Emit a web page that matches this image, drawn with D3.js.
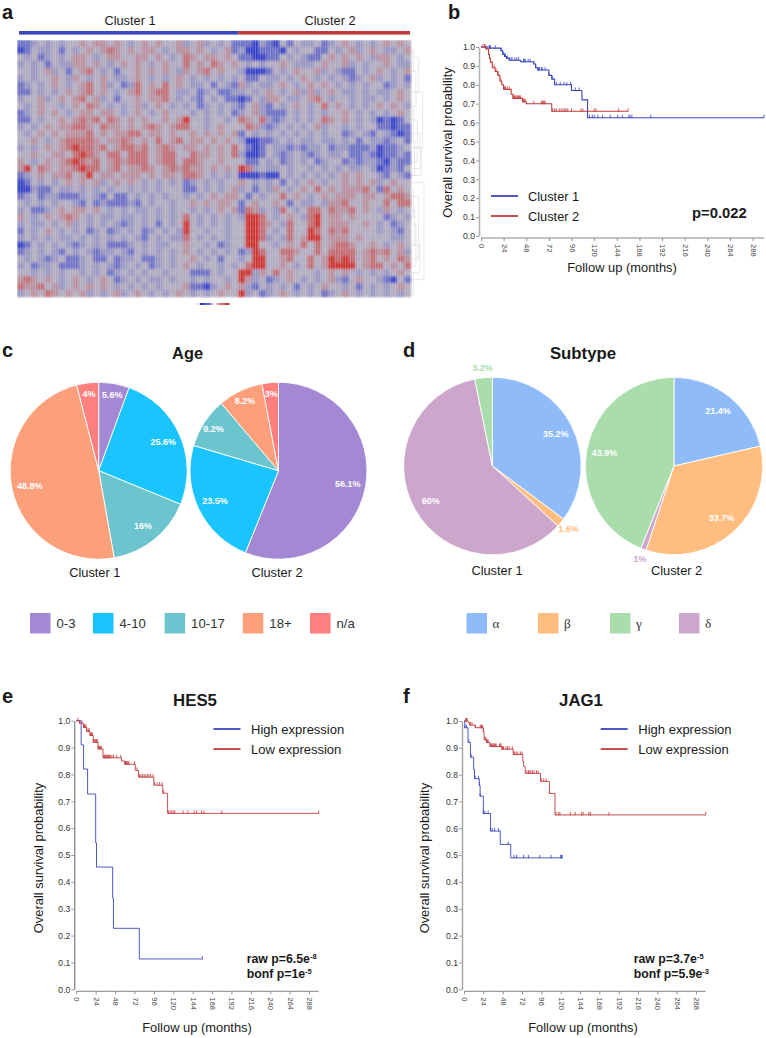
<!DOCTYPE html>
<html>
<head>
<meta charset="utf-8">
<style>
  html, body { margin: 0; padding: 0; background: #fff; }
  svg { display: block; }
  text { font-family: "Liberation Sans", Arial, sans-serif; fill: #1a1a1a; }
</style>
<script src="https://d3js.org/d3.v7.min.js"></script>
</head>
<body>
<svg id="fig" width="766" height="1038"></svg>
<script>
// a: expression, one letter per block
// a,b,c = blue (strong to light), . = neutral, r,s,t = red (light to strong)
const heatLevels = { a: -3, b: -1.7, c: -0.6, '.': 0, r: 0.7, s: 1.6, t: 3 };
const heatCluster1 = [
  "bbc.c.c. .r.rr.r. c.r.r..r c.rc.c.b",
  "ab.cc.b. c.r.rsr. r.rr.c.r r.r.c.rb",
  ".c.bc.c. rr.c.rr. .rr.r.c. sr.rr.r.",
  "c.c.b.cc rr.r.c.r .r.c.r.. s.r.sr.r",
  "..c.rc.b .rs.c.b. .r.r.r.c r.rs.r..",
  "c.c..r.c r.c.r.cc .r.c.c.r .c.c.c.c",
  "bc.c.r.c .rs.rc.b cs.r.s.r .cc.b.cb",
  "bb.c.c.r .rs.r.c. rs.rss.c c.bc.bbc",
  "c..rc.r. rs.rc.b. .r.rrs.c .cb.c.bb",
  ".c.r..c. r.sr.c.c .rc.r.c. c.bc.c.c",
  "bc.r.r.c .rr.rr.c .r.c.r.. .c.c.c.b",
  "bb.c..r. rsrs.sr. r.r..r.r t..c..c.",
  "c.c.r.rr ssr.srr. r.rsr.rs s..c.r..",
  ".c.r.r.r rrs.r.rr ss.rr.r. .r.r.r.r",
  "..r.c.rs sssr.rrs r.r.s.rs .rr.r.r.",
  "c.c.r.rs tssrs.rs srs.rsr. rr.r.r.s",
  "..r..rr. stsr.ss. sss.rss. .srr.r.s",
  "r.c.r.rs tsrs.rsr sss.rss. ssr..r..",
  "rt.sr.rr stss.rs. rrsr.rsr srr.r.r.",
  "bc.r.rrs .rt.rr.r rr.r.rr. ssr.c.c.",
  "ab.c.c.r .r.rc.r. r.c.c.c. bc.c.c..",
  "aacbb.cc .c.c.c.. c.c.c... bb.c.c.r",
  "bc.bccbb bc.cb.bb .c.c.c.. c.c.r.rr",
  ".c.c.c.. cb.bcbbb cb.c..c. .r.r.rr.",
  "c.bbc.r. rr.r.c.c .cc.c.c. .c.c.r.r",
  "r.c.r.rs r.c.cc.c c.c.c.c. s.c.c.c.",
  "c.cc.c.r c.c.c.cb c.c.b.c. t.c.c.c.",
  "b.c.r.c. c.bc.bc. c.bc.c.c t..c..c.",
  "c.c.c.cc .c.c.c.c .cb.c.cc s.c.c.c.",
  "ab.c.c.c bc.c.bbb c.c.cc.. r..c.bc.",
  "bc.c.cb. c.cbcc.c b.c.c.c. r.c.c.c.",
  ".c.cbc.b bc.bb.bc c.bbc.c. .r.c.b..",
  "c.bcc.bb bc.c.cbc .c.bc.c. r.c..c.c",
  "..c.c.c. .c.c.bc. c.c..c.. .bbb.c..",
  "rsr.r.c. r.c.r.bc .c.cc.c. .c.c..c.",
  "srrs.rc. r.r.r.c. c.c.c... rbbac.r.",
  "c.r.sr.r .rc.c.rc .r.c.c.r .c.c.r.."
];
const heatCluster2 = [
  "bbacb a.b.c c.bc. r.c.c .r.r.",
  "caabb ba.c. .bb.c .rc.r .cc.r",
  "bbaab b.c.c bb.r. r.r.c rr.c.",
  ".c.c. .r.cc c.r.. rc.c. .r.cc",
  "caaab .c.r. .rc.c bb.c. r.c.r",
  ".bb.c c.c.r .c.c. cbc.r c.c.b",
  "rc.cc .r.c. r.r.c .c.c. .bc.c",
  "c.c.r .c.rc rc.r. cc.c. cc.r.",
  "ab.cr r.cc. rs.c. .c.cc .c.r.",
  "b.rcb .c.r. c.s.r .c.c. r.r.c",
  "c.rcb bb.c. c.c.. r.c.c .c.r.",
  "sr.sc bc.c. c.sr. r.c.c abab.",
  ".srcb c.c.c .rc.. c.c.. bbabb",
  "b.c.c .c.c. c.c.. bc.cb .cbab",
  "caabb c.c.c c.cc. c.b.c cbc.b",
  ".bab. ccbcb cc.bc cbbbc abbc.",
  "caab. cbc.c bc.cc .bbcb abbcb",
  ".bb.c .bc.c .bc.. bcbcc bacbb",
  "tsc.c c.c.. c.c.c .cc.c abcb.",
  "aaaba a.c.c .c.c. r.r.. cb.cb",
  "r.c.c .b.c. r.c.. r.r.r c.r..",
  "c.b.c r.c.r .s.r. rrrs. bs.r.",
  ".b.c. .s.r. c.r.r rr.rr .rssr",
  "b.r.. r.b.c c.crr s..r. .s.ss",
  "bsrc. cs.c. ss.sr rs.r. cr.c.",
  "ctts. c.r.c st.rr .r... .bc.c",
  ".ttsr .cs.. st.rr r..r. c.bc.",
  ".tts. c.s.. ts.sr s.... c.cb.",
  ".ttsc .cs.r tt.rr r.r.. ..cc.",
  ".tt.. c.r.s .s.rs sr..r .c.r.",
  "bcts. .ssr. .s.ss ss.rs rs.rc",
  "c.tt. .rs.. s.rts ts.rs .r.sr",
  ".stt. .r.c. s.rtt tt.rs s.r.s",
  "ttcr. s.r.. .c.r. r.c.c .c.r.",
  "trc.b c.r.c .c.rc b.r.. cba.b",
  "rcb.c .c.b. c.r.. c.b.c .c.r.",
  "tc.bc .r.c. c.bc. r.c.c .c.c."
];
// dendrogram beside the heatmap: [first row, last row, depth]
const dendroMerges = [
  [1, 4, 1], [4, 9, 3], [2, 7, 5], [9, 14, 1], [14, 19, 2], [11, 17, 4], [13, 18, 6], [15, 19, 7],
  [21, 25, 1], [24, 29, 2], [26, 32, 3], [22, 31, 5], [29, 33, 6], [33, 36, 1], [7, 15, 8], [20, 34, 9]
];
const colorKeySteps = [-3, -2.5, -2, -1.5, -1, -0.5, 0, 0.5, 1, 1.5, 2, 2.5, 3];

// survival panels share these ticks
const monthTicks = [0, 24, 48, 72, 96, 120, 144, 168, 192, 216, 240, 264, 288];
const survTicks = [0, 0.1, 0.2, 0.3, 0.4, 0.5, 0.6, 0.7, 0.8, 0.9, 1];

// b
const cluster1Months = [0, 9, 21, 23, 25, 27, 30, 42, 56, 58, 60, 72, 75, 78, 96, 107, 113, 300];
const cluster1Surv = [1, 0.994, 0.98, 0.96, 0.95, 0.94, 0.93, 0.922, 0.91, 0.89, 0.878, 0.85, 0.83, 0.8, 0.77, 0.72, 0.626, 0.626];
const cluster1Censored = [4, 9, 10, 15, 22, 24, 25, 26, 28, 30, 32, 33, 36, 38, 40, 45, 46, 47, 50, 52, 56, 58, 61, 62, 64, 65, 68, 72, 76, 80, 84, 88, 91, 95, 100, 104, 115, 118, 120, 124, 129, 137, 145, 150, 157, 158, 160, 180, 300];
const cluster2Months = [0, 5, 8, 9, 10, 12, 15, 18, 20, 22, 24, 32, 34, 44, 48, 75, 156];
const cluster2Surv = [1, 0.99, 0.96, 0.94, 0.92, 0.89, 0.87, 0.85, 0.82, 0.8, 0.776, 0.75, 0.728, 0.71, 0.7, 0.66, 0.66];
const cluster2Censored = [2, 4, 6, 9, 14, 16, 18, 21, 24, 25, 26, 28, 30, 34, 35, 36, 37, 38, 39, 40, 41, 42, 45, 46, 47, 56, 64, 65, 66, 67, 68, 76, 78, 80, 83, 85, 87, 89, 90, 92, 96, 106, 108, 120, 122, 146, 156];

// e
const hes5HighMonths = [0, 6, 9, 14, 24, 25, 45, 46, 78, 156];
const hes5HighSurv = [1, 0.91, 0.82, 0.727, 0.545, 0.455, 0.34, 0.227, 0.113, 0.113];
const hes5HighCensored = [156];
const hes5LowMonths = [0, 4, 9, 13, 17, 21, 27, 33, 56, 60, 73, 77, 96, 107, 113, 300];
const hes5LowSurv = [1, 0.99, 0.975, 0.96, 0.945, 0.92, 0.895, 0.862, 0.85, 0.838, 0.815, 0.79, 0.76, 0.73, 0.655, 0.655];
const hes5LowCensored = [2, 4, 7, 9, 10, 11, 12, 13, 15, 16, 17, 18, 19, 20, 21, 22, 23, 24, 25, 26, 27, 28, 29, 30, 31, 34, 35, 36, 37, 38, 39, 40, 41, 42, 44, 46, 50, 55, 60, 61, 62, 63, 64, 65, 72, 75, 78, 80, 82, 84, 86, 88, 90, 92, 95, 97, 100, 103, 106, 108, 114, 116, 118, 120, 122, 132, 138, 146, 149, 155, 158, 180, 300];

// f
const jag1HighMonths = [0, 1, 5, 8, 12, 13, 14, 19, 20, 24, 33, 45, 58, 122];
const jag1HighSurv = [1, 0.975, 0.92, 0.865, 0.82, 0.785, 0.785, 0.76, 0.72, 0.655, 0.59, 0.54, 0.49, 0.49];
const jag1HighCensored = [1, 3, 6, 9, 14, 18, 19, 20, 24, 26, 30, 33, 35, 38, 43, 55, 62, 65, 74, 80, 94, 108, 120, 121, 122];
const jag1LowMonths = [0, 5, 7, 14, 24, 25, 28, 32, 47, 61, 73, 74, 76, 78, 95, 106, 113, 300];
const jag1LowSurv = [1, 0.995, 0.985, 0.975, 0.96, 0.93, 0.92, 0.905, 0.895, 0.875, 0.85, 0.83, 0.805, 0.805, 0.775, 0.73, 0.65, 0.65];
const jag1LowCensored = [2, 3, 4, 8, 10, 14, 20, 21, 22, 23, 24, 26, 27, 28, 29, 30, 33, 34, 35, 36, 37, 38, 39, 40, 44, 45, 46, 47, 48, 49, 52, 54, 56, 60, 62, 63, 65, 67, 70, 72, 78, 80, 81, 83, 85, 87, 90, 92, 96, 99, 102, 106, 114, 117, 119, 132, 138, 146, 148, 155, 157, 180, 300];

// c
const ageGroups = ['0-3', '4-10', '10-17', '18+', 'n/a'];
const ageColors = ['#a488d4', '#1ac4ff', '#6cc5ce', '#fba07a', '#ff7f7f'];
const ageCluster1 = [5.6, 25.6, 16, 48.8, 4];
const ageCluster2 = [56.1, 23.5, 9.2, 8.2, 3];

// d (drawn clockwise alpha, beta, delta, gamma)
const subtypes = ['α', 'β', 'γ', 'δ'];
const subtypeColors = ['#8fbcf8', '#ffbe80', '#a9ddab', '#cda6cc'];
const subtypeCluster1 = [35.2, 1.6, 3.2, 60];
const subtypeCluster2 = [21.4, 33.7, 43.9, 1];
const subtypeSliceOrder = [0, 1, 3, 2];

const blue = '#3a45c0';
const red = '#c23a3c';
const svg = d3.select('#fig');

function addText(x, y, str, size, weight, anchor, color) {
  return svg.append('text')
    .attr('x', x).attr('y', y)
    .attr('font-size', size)
    .attr('font-weight', weight || 'normal')
    .attr('text-anchor', anchor || 'start')
    .style('fill', color || '#1a1a1a')
    .text(str);
}

// panel letters
[['a', 2, 18.5], ['b', 448, 18.5], ['c', 2, 357], ['d', 403, 357], ['e', 2, 703], ['f', 403, 703]]
  .forEach(d => addText(d[1], d[2], d[0], 20, 'bold'));

// ---------- a: heatmap ----------
const heatRows = heatCluster1.map((row, i) => (row + heatCluster2[i]).replace(/ /g, ''));
const heatX = d3.scaleBand().domain(d3.range(57)).range([17, 411]);
const heatY = d3.scaleBand().domain(d3.range(heatRows.length)).range([40, 297]);
const heatColor = d3.scaleLinear().domain([-3, 0, 3]).range(['#2f3ccb', '#b4afc2', '#d22f28']);

addText(130, 25, 'Cluster 1', 12.8, 'normal', 'middle');
addText(330, 25, 'Cluster 2', 12.8, 'normal', 'middle');
svg.append('rect').attr('x', 19).attr('y', 31).attr('width', heatX(32) - 19).attr('height', 3.6).attr('fill', blue);
svg.append('rect').attr('x', heatX(32)).attr('y', 31).attr('width', 410 - heatX(32)).attr('height', 3.6).attr('fill', red);

const defs = svg.append('defs');
defs.append('filter').attr('id', 'soften')
  .attr('x', 0).attr('y', 0).attr('width', 1).attr('height', 1)
  .append('feGaussianBlur').attr('stdDeviation', 1.3).attr('edgeMode', 'duplicate');

svg.append('g').attr('filter', 'url(#soften)').selectAll('g')
  .data(heatRows)
  .join('g')
  .attr('transform', (d, i) => `translate(0,${heatY(i)})`)
  .selectAll('rect')
  .data(d => d3.range(57).map(j => d[j] || '.'))
  .join('rect')
  .attr('x', (d, j) => heatX(j))
  .attr('width', heatX.bandwidth() + 0.2)
  .attr('height', heatY.bandwidth() + 0.2)
  .attr('fill', d => heatColor(heatLevels[d]));

// fine cell grid on top, the original has far more cells than can be read
const grain = defs.append('pattern').attr('id', 'grain')
  .attr('patternUnits', 'userSpaceOnUse').attr('width', 5).attr('height', 4);
grain.append('rect').attr('x', 0).attr('width', 1).attr('height', 4).attr('fill', 'rgba(205,205,215,0.38)');
grain.append('rect').attr('x', 2.5).attr('width', 1).attr('height', 4).attr('fill', 'rgba(205,205,215,0.3)');
grain.append('rect').attr('x', 1).attr('y', 1).attr('width', 1).attr('height', 1).attr('fill', 'rgba(60,70,190,0.2)');
grain.append('rect').attr('x', 3.5).attr('y', 3).attr('width', 1).attr('height', 1).attr('fill', 'rgba(200,60,60,0.18)');
svg.append('rect').attr('x', 17).attr('y', 40).attr('width', 394).attr('height', 257).attr('fill', 'url(#grain)');

// dendrogram
const dendroX = d3.scaleLinear().domain([0, 9]).range([412, 424]);
const dendroG = svg.append('g').attr('fill', 'none').attr('stroke', '#dedede').attr('stroke-width', 0.7);
dendroG.selectAll('path')
  .data(dendroMerges)
  .join('path')
  .attr('d', d => {
    const y0 = heatY(d[0]) + heatY.bandwidth() / 2;
    const y1 = heatY(d[1]) + heatY.bandwidth() / 2;
    const x1 = dendroX(d[2]);
    return `M${dendroX(0)},${y0}H${x1}V${y1}H${dendroX(0)}`;
  });

// colour key under the heatmap
const keyX = d3.scaleBand().domain(colorKeySteps).range([200, 229]);
const keyColor = d3.scaleLinear().domain([-3, -1, 0, 1, 3]).range(['#2030c0', '#6a75e0', '#ffffff', '#f08080', '#d22f28']);
svg.append('line').attr('x1', 195).attr('x2', 231).attr('y1', 304).attr('y2', 304).attr('stroke', '#bbb').attr('stroke-width', 0.7);
svg.append('g').selectAll('rect')
  .data(colorKeySteps)
  .join('rect')
  .attr('x', d => keyX(d))
  .attr('y', 303)
  .attr('width', keyX.bandwidth() + 0.2)
  .attr('height', 2)
  .attr('fill', d => keyColor(d));

// ---------- survival panels ----------
function drawSurvival(opts) {
  const x = d3.scaleLinear().domain([0, 288]).range(opts.xRange);
  const y = d3.scaleLinear().domain([0, 1]).range(opts.yRange);
  const xEnd = x(300);
  const yAxisX = opts.xRange[0] - 2;
  const xAxisY = opts.yRange[0] + 2;

  const gy = svg.append('g')
    .attr('transform', `translate(${yAxisX},0)`)
    .call(d3.axisLeft(y).tickValues(survTicks).tickFormat(d3.format('.1f')).tickSize(3).tickSizeOuter(0));
  gy.select('.domain').attr('stroke', opts.axisColor).attr('stroke-width', opts.axisWidth);
  gy.selectAll('.tick line').attr('stroke', '#777').attr('stroke-width', 0.7);
  gy.selectAll('text').style('fill', '#333').attr('font-size', 8.6).attr('x', -4);

  const gx = svg.append('g')
    .attr('transform', `translate(0,${xAxisY})`)
    .call(d3.axisBottom(x).tickValues(monthTicks).tickSize(3).tickSizeOuter(0));
  gx.select('.domain').attr('d', `M${opts.xRange[0]},0H${xEnd}`).attr('stroke', '#666').attr('stroke-width', 0.8);
  gx.selectAll('.tick line').attr('stroke', '#666').attr('stroke-width', 0.7);
  gx.selectAll('text')
    .style('fill', '#444')
    .attr('font-size', 7.6)
    .attr('text-anchor', 'start')
    .attr('transform', 'rotate(90)')
    .attr('x', 6)
    .attr('y', 0)
    .attr('dy', '0.32em');

  const line = d3.line()
    .x(d => x(d[0]))
    .y(d => y(d[1]))
    .curve(d3.curveStepAfter);

  opts.series.forEach(s => {
    svg.append('path')
      .datum(d3.zip(s.months, s.surv))
      .attr('fill', 'none')
      .attr('stroke', s.color)
      .attr('stroke-width', opts.lineWidth)
      .attr('d', line);
    svg.append('g')
      .attr('stroke', s.color)
      .attr('stroke-width', 0.8)
      .selectAll('line')
      .data(s.censored)
      .join('line')
      .attr('x1', d => x(d))
      .attr('x2', d => x(d))
      .attr('y1', d => y(s.surv[d3.bisectRight(s.months, d) - 1]) - 3)
      .attr('y2', d => y(s.surv[d3.bisectRight(s.months, d) - 1]) + 0.5);
  });

  svg.append('text')
    .attr('transform', `translate(${opts.yLabelX},${(opts.yRange[0] + opts.yRange[1]) / 2 + opts.yLabelShift}) rotate(-90)`)
    .attr('text-anchor', 'middle')
    .attr('font-size', 12.9)
    .text('Overall survival probability');
  addText(opts.xLabelX, opts.xLabelY, 'Follow up (months)', 12.9, 'normal', 'middle');

  opts.series.forEach((s, i) => {
    const ly = opts.legend.y + i * 20;
    svg.append('line')
      .attr('x1', opts.legend.x).attr('x2', opts.legend.x + 27)
      .attr('y1', ly).attr('y2', ly)
      .attr('stroke', s.color).attr('stroke-width', 1.8);
    addText(opts.legend.textX, ly + 4.5, s.label, opts.legend.size);
  });
}

function addPValue(x, y, label, base, power) {
  const t = addText(x, y, label + base, 12.3, 'bold');
  t.append('tspan').attr('dy', -4).attr('font-size', 7.5).text(power);
}

drawSurvival({
  xRange: [481, 752.6], yRange: [236, 47], axisColor: '#b4b4b4', axisWidth: 1.6, lineWidth: 1.1,
  yLabelX: 452, yLabelShift: 1, xLabelX: 622, xLabelY: 272,
  legend: { x: 491, y: 196, textX: 528, size: 12.8 },
  series: [
    { label: 'Cluster 1', color: blue, months: cluster1Months, surv: cluster1Surv, censored: cluster1Censored },
    { label: 'Cluster 2', color: red, months: cluster2Months, surv: cluster2Surv, censored: cluster2Censored }
  ]
});
addText(692, 218, 'p=0.022', 14.8, 'bold');

addText(195, 706, 'HES5', 16.8, 'bold', 'middle');
drawSurvival({
  xRange: [76.3, 309], yRange: [989.3, 720.7], axisColor: '#555', axisWidth: 0.9, lineWidth: 0.9,
  yLabelX: 43, yLabelShift: 3, xLabelX: 197, xLabelY: 1032,
  legend: { x: 213.5, y: 729, textX: 251, size: 13 },
  series: [
    { label: 'High expression', color: blue, months: hes5HighMonths, surv: hes5HighSurv, censored: hes5HighCensored },
    { label: 'Low expression', color: red, months: hes5LowMonths, surv: hes5LowSurv, censored: hes5LowCensored }
  ]
});
addPValue(246.7, 962.7, 'raw p=', '6.5e', '-8');
addPValue(246.7, 978, 'bonf p=', '1e', '-5');

addText(581, 706, 'JAG1', 16.8, 'bold', 'middle');
drawSurvival({
  xRange: [464, 696], yRange: [989.3, 721], axisColor: '#a0a0a0', axisWidth: 1.4, lineWidth: 0.9,
  yLabelX: 429, yLabelShift: 3, xLabelX: 583, xLabelY: 1032,
  legend: { x: 600.7, y: 729, textX: 638.3, size: 13 },
  series: [
    { label: 'High expression', color: blue, months: jag1HighMonths, surv: jag1HighSurv, censored: jag1HighCensored },
    { label: 'Low expression', color: red, months: jag1LowMonths, surv: jag1LowSurv, censored: jag1LowCensored }
  ]
});
addPValue(633.7, 962.7, 'raw p=', '3.7e', '-5');
addPValue(633.7, 978, 'bonf p=', '5.9e', '-3');

// ---------- pies ----------
function drawPie(cx, cy, r, values, colors, order, outside) {
  const rows = order.map(i => ({ value: values[i], color: colors[i] }));
  const arcs = d3.pie().sort(null).value(d => d.value)(rows);
  const arc = d3.arc().innerRadius(0).outerRadius(r);
  const g = svg.append('g').attr('transform', `translate(${cx},${cy})`);
  g.selectAll('path')
    .data(arcs)
    .join('path')
    .attr('d', arc)
    .attr('fill', d => d.data.color)
    .attr('stroke', '#fff')
    .attr('stroke-width', 0.9);

  g.selectAll('text')
    .data(arcs)
    .join('text')
    .each(function (d) {
      const out = outside && d.data.value < 3.5;
      const labelR = out ? r + 10 : d.data.value < 10 ? r - 11 : r - 18;
      const mid = (d.startAngle + d.endAngle) / 2;
      d3.select(this)
        .attr('x', Math.sin(mid) * labelR)
        .attr('y', -Math.cos(mid) * labelR)
        .attr('dy', '0.35em')
        .attr('text-anchor', 'middle')
        .attr('font-size', 9)
        .attr('font-weight', 'bold')
        .style('fill', out ? d.data.color : '#fff')
        .text(d.data.value + '%');
    });
}

addText(187.6, 359, 'Age', 16.4, 'bold', 'middle');
addText(583, 359, 'Subtype', 16.8, 'bold', 'middle');
const ageOrder = d3.range(ageGroups.length);
drawPie(98.7, 470.7, 88.5, ageCluster1, ageColors, ageOrder, false);
drawPie(278.5, 470.7, 88.5, ageCluster2, ageColors, ageOrder, false);
drawPie(492.4, 466, 88.8, subtypeCluster1, subtypeColors, subtypeSliceOrder, true);
drawPie(674, 466, 88.7, subtypeCluster2, subtypeColors, subtypeSliceOrder, true);

addText(94.8, 577, 'Cluster 1', 12.8, 'normal', 'middle');
addText(277, 577, 'Cluster 2', 12.8, 'normal', 'middle');
addText(497, 575, 'Cluster 1', 12.8, 'normal', 'middle');
addText(676.6, 575, 'Cluster 2', 12.8, 'normal', 'middle');

// pie legends
function drawSwatches(labels, colors, xs, textOffset, font) {
  const g = svg.append('g').selectAll('g').data(labels).join('g')
    .attr('transform', (d, i) => `translate(${xs[i]},613)`);
  g.append('rect').attr('width', 20.5).attr('height', 20.5).attr('fill', (d, i) => colors[i]);
  g.append('text')
    .attr('x', textOffset).attr('y', 15)
    .attr('font-size', 13.2)
    .style('font-family', font)
    .style('fill', '#333')
    .text(d => d);
}
drawSwatches(ageGroups, ageColors, [30, 93, 164.6, 242.8, 310], 26.5, '"Liberation Sans", Arial, sans-serif');
drawSwatches(subtypes, subtypeColors, [466.5, 538, 610, 679], 26, '"Liberation Serif", "DejaVu Serif", serif');
</script>
</body>
</html>
